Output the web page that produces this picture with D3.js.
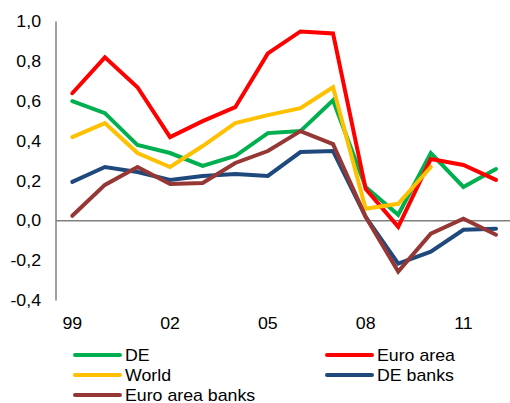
<!DOCTYPE html>
<html><head><meta charset="utf-8">
<script src="https://cdn.jsdelivr.net/npm/d3@7"></script>
<style>body{margin:0;background:#fff}svg{display:block}text{font-family:"Liberation Sans",Arial,sans-serif;fill:#000}</style>
</head><body><svg width="510" height="403"></svg>
<script>
const years = [1999,2000,2001,2002,2003,2004,2005,2006,2007,2008,2009,2010,2011,2012];
const tickYears = [1999,2002,2005,2008,2011];
const yTicks = [-0.4,-0.2,0,0.2,0.4,0.6,0.8,1.0];
const seriesNames = ["DE","Euro area","World","DE banks","Euro area banks"];
const seriesColors = ["#00B050","#FF0000","#FFC000","#1F497D","#953735"];
const de = [0.60,0.54,0.38,0.34,0.275,0.325,0.44,0.45,0.605,0.17,0.03,0.34,0.17,0.26];
const euroArea = [0.64,0.82,0.67,0.42,0.50,0.57,0.84,0.95,0.94,0.16,-0.03,0.31,0.28,0.205];
const world = [0.42,0.49,0.34,0.27,0.375,0.49,0.53,0.565,0.67,0.06,0.085,0.27,null,null];
const deBanks = [0.195,0.27,0.245,0.205,0.225,0.235,0.225,0.345,0.35,0.02,-0.215,-0.155,-0.045,-0.04];
const euroAreaBanks = [0.025,0.18,0.27,0.185,0.19,0.29,0.35,0.45,0.385,0.02,-0.255,-0.065,0.01,-0.07];
const seriesValues = [de,euroArea,world,deBanks,euroAreaBanks];

const svg = d3.select("svg");
const x = d3.scaleLinear().domain([1999,2012]).range([72.3,496]);
const y = d3.scaleLinear().domain([-0.4,1.0]).range([300.5,21.5]);
const fmt = v => d3.format(".1f")(v).replace(".",",").replace("−","-");
const SX = 1.11;
const txt = (sel, tx, ty) => sel.attr("transform", (d,i)=>`translate(${tx(d,i)},${ty(d,i)}) scale(${SX},1)`)
  .attr("dy","0.35em").style("font-size","16px");

// y axis labels
txt(svg.append("g").selectAll("text").data(yTicks).join("text"), ()=>41, d=>y(d))
  .attr("text-anchor","end").text(fmt);
// y axis line
svg.append("line").attr("x1",56).attr("x2",56).attr("y1",y(1.0)).attr("y2",y(-0.4))
  .attr("stroke","#808080").attr("stroke-width",1.5);
// zero line
svg.append("line").attr("x1",56).attr("x2",510).attr("y1",y(0)).attr("y2",y(0))
  .attr("stroke","#808080").attr("stroke-width",1.5);
// x labels
txt(svg.append("g").selectAll("text").data(tickYears).join("text"), d=>x(d), ()=>323)
  .attr("text-anchor","middle").text(d=>String(d).slice(2));

const line = d3.line().defined(d=>d!=null).x((d,i)=>x(years[i])).y(d=>y(d));
seriesValues.forEach((vals,i)=>{
  svg.append("path").datum(vals).attr("d",line).attr("fill","none")
    .attr("stroke",seriesColors[i]).attr("stroke-width",4)
    .attr("stroke-linejoin","miter").attr("stroke-linecap","round");
});

// legend
const legPos = [[75,355],[327,355],[75,375],[327,375],[75,395]];
seriesNames.forEach((n,i)=>{
  const [lx,ly] = legPos[i];
  svg.append("line").attr("x1",lx).attr("x2",lx+45).attr("y1",ly).attr("y2",ly)
    .attr("stroke",seriesColors[i]).attr("stroke-width",4).attr("stroke-linecap","round");
  txt(svg.append("text"), ()=>lx+50, ()=>ly).text(n);
});
</script></body></html>
